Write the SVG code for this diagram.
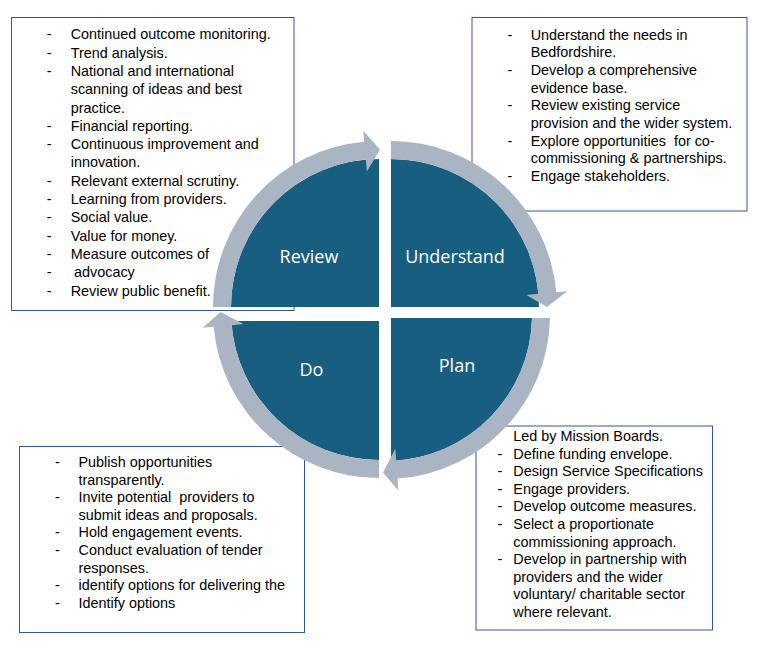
<svg xmlns="http://www.w3.org/2000/svg" width="759" height="646" viewBox="0 0 759 646">
<style>
.box{fill:#ffffff;stroke:#3355A6;stroke-width:1}
.t{font-family:"Liberation Sans",Arial,sans-serif;font-size:14.4px;fill:#000000}
.pie{fill:#185E80}
.ring{fill:#AAB5C3}
.lbl{font-family:"Open Sans","DejaVu Sans",sans-serif;font-size:18px;fill:#ffffff;text-anchor:middle}
</style>
<rect width="759" height="646" fill="#ffffff"/>
<g id="box-review">
<rect class="box" x="11.5" y="17.5" width="282.5" height="293"/>
<g class="t">
<text x="46.7" y="39.3">-</text><text x="70.7" y="39.3">Continued outcome monitoring.</text>
<text x="46.7" y="57.6">-</text><text x="70.7" y="57.6">Trend analysis.</text>
<text x="46.7" y="75.9">-</text><text x="70.7" y="75.9">National and international</text>
<text x="70.7" y="94.2">scanning of ideas and best</text>
<text x="70.7" y="112.5">practice.</text>
<text x="46.7" y="130.8">-</text><text x="70.7" y="130.8">Financial reporting.</text>
<text x="46.7" y="149.1">-</text><text x="70.7" y="149.1">Continuous improvement and</text>
<text x="70.7" y="167.4">innovation.</text>
<text x="46.7" y="185.7">-</text><text x="70.7" y="185.7">Relevant external scrutiny.</text>
<text x="46.7" y="204">-</text><text x="70.7" y="204">Learning from providers.</text>
<text x="46.7" y="222.3">-</text><text x="70.7" y="222.3">Social value.</text>
<text x="46.7" y="240.6">-</text><text x="70.7" y="240.6">Value for money.</text>
<text x="46.7" y="258.9">-</text><text x="70.7" y="258.9">Measure outcomes of</text>
<text x="46.7" y="277.2">-</text><text x="74" y="277.2">advocacy</text>
<text x="46.7" y="295.5">-</text><text x="70.7" y="295.5">Review public benefit.</text>
</g>
</g>
<g id="box-understand">
<rect class="box" x="472" y="17.5" width="275" height="193.5"/>
<g class="t">
<text x="507.5" y="39.5">-</text><text x="530.7" y="39.5">Understand the needs in</text>
<text x="530.7" y="57.2">Bedfordshire.</text>
<text x="507.5" y="74.9">-</text><text x="530.7" y="74.9">Develop a comprehensive</text>
<text x="530.7" y="92.6">evidence base.</text>
<text x="507.5" y="110.3">-</text><text x="530.7" y="110.3">Review existing service</text>
<text x="530.7" y="128">provision and the wider system.</text>
<text x="507.5" y="145.7">-</text><text x="530.7" y="145.7" xml:space="preserve">Explore opportunities  for co-</text>
<text x="530.7" y="163.4">commissioning &amp; partnerships.</text>
<text x="507.5" y="181.1">-</text><text x="530.7" y="181.1">Engage stakeholders.</text>
</g>
</g>
<g id="box-do">
<rect class="box" x="19.5" y="446.5" width="285" height="186"/>
<g class="t">
<text x="55" y="467">-</text><text x="78.5" y="467">Publish opportunities</text>
<text x="78.5" y="484.6">transparently.</text>
<text x="55" y="502.2">-</text><text x="78.5" y="502.2" xml:space="preserve">Invite potential  providers to</text>
<text x="78.5" y="519.8">submit ideas and proposals.</text>
<text x="55" y="537.4">-</text><text x="78.5" y="537.4">Hold engagement events.</text>
<text x="55" y="555">-</text><text x="78.5" y="555">Conduct evaluation of tender</text>
<text x="78.5" y="572.6">responses.</text>
<text x="55" y="590.2">-</text><text x="78.5" y="590.2">identify options for delivering the</text>
<text x="55" y="607.8">-</text><text x="78.5" y="607.8">Identify options</text>
</g>
</g>
<g id="box-plan">
<rect class="box" x="476" y="426" width="236.5" height="204"/>
<g class="t">
<text x="513.3" y="441">Led by Mission Boards.</text>
<text x="497.5" y="458.6">-</text><text x="513.3" y="458.6">Define funding envelope.</text>
<text x="497.5" y="476.2">-</text><text x="513.3" y="476.2">Design Service Specifications</text>
<text x="497.5" y="493.8">-</text><text x="513.3" y="493.8">Engage providers.</text>
<text x="497.5" y="511.4">-</text><text x="513.3" y="511.4">Develop outcome measures.</text>
<text x="497.5" y="529">-</text><text x="513.3" y="529">Select a proportionate</text>
<text x="513.3" y="546.6">commissioning approach.</text>
<text x="497.5" y="564.2">-</text><text x="513.3" y="564.2">Develop in partnership with</text>
<text x="513.3" y="581.8">providers and the wider</text>
<text x="513.3" y="599.4">voluntary/ charitable sector</text>
<text x="513.3" y="617">where relevant.</text>
</g>
</g>
<g id="node-review">
<path class="pie" d="M379,307 L231,307 A148,148 0 0 1 379,159 Z"/>
<text class="lbl" x="309" y="263">Review</text>
</g>
<g id="node-understand">
<path class="pie" d="M391,307 L391,159 A148,148 0 0 1 539,307 Z"/>
<text class="lbl" x="455" y="263">Understand</text>
</g>
<g id="node-plan">
<path class="pie" d="M391,318 L532,318 A146,146 0 0 1 391,460.9 Z"/>
<text class="lbl" x="457" y="372">Plan</text>
</g>
<g id="node-do">
<path class="pie" d="M379,321 L231.3,321 A148,148 0 0 0 379,460 Z"/>
<text class="lbl" x="311.5" y="376">Do</text>
</g>
<g id="connectors">
<path class="ring" d="M213,307 A166,166 0 0 1 364.2,141.7 L363.3,130.7 L380,149.5 L366.9,171.5 L365.8,159.6 A148,148 0 0 0 231,307 Z"/>
<path class="ring" d="M391,141 A166,166 0 0 1 556.3,292.2 L567.3,291.3 L547,307 L526.5,294.9 L538.4,293.8 A148,148 0 0 0 391,159 Z"/>
<path class="ring" d="M550,318 A164,164 0 0 1 397.4,478.6 L398.3,490.6 L383,472.5 L395.3,448.7 L396.2,460.6 A146,146 0 0 0 532,318 Z"/>
<path class="ring" d="M379,478 A166,166 0 0 1 213.7,326.8 L202.7,327.7 L220.5,312 L243.5,324.1 L231.6,325.2 A148,148 0 0 0 379,460 Z"/>
</g>
</svg>
